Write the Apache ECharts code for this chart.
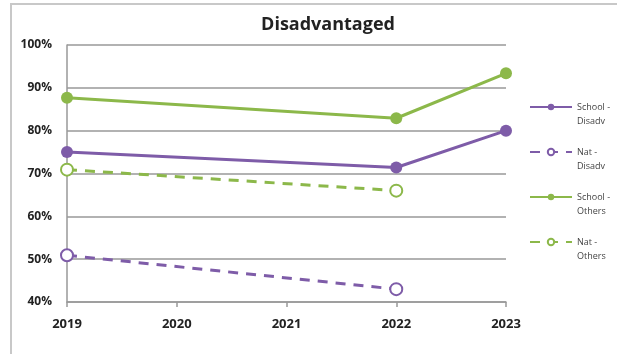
<!DOCTYPE html>
<html><head><meta charset="utf-8">
<script src="https://cdn.jsdelivr.net/npm/echarts@6/dist/echarts.min.js"></script>
<style>html,body{margin:0;padding:0;background:#fff}#c{width:617px;height:354px}</style>
</head><body><div id="c"></div>
<script>
const categories = ['2019','2020','2021','2022','2023'];
const schoolDisadv = [75, null, null, 71.4, 80];
const natDisadv = [50.9, null, null, 43, null];
const schoolOthers = [87.7, null, null, 82.9, 93.4];
const natOthers = [70.9, null, null, 66, null];
const seriesNames = ['School - Disadv','Nat - Disadv','School - Others','Nat - Others'];
const legendLabels = {'School - Disadv':'School -\nDisadv','Nat - Disadv':'Nat -\nDisadv','School - Others':'School -\nOthers','Nat - Others':'Nat -\nOthers'};

const purple = '#7E5CA8', green = '#8CB84A';
const font = '"Open Sans", "Liberation Sans", sans-serif';
function solid(name, data, color){
  return {name, type:'line', data, connectNulls:true, symbol:'circle', symbolSize:12,
    lineStyle:{color, width:3}, itemStyle:{color}};
}
function dashed(name, data, color){
  return {name, type:'line', data, connectNulls:true, symbol:'emptyCircle', symbolSize:12,
    lineStyle:{color, width:3, type:[10,8]}, itemStyle:{color, borderWidth:1.5, borderColor:color}};
}
const chart = echarts.init(document.getElementById('c'));
chart.setOption({
  animation:false,
  backgroundColor:'#fff',
  graphic:[{type:'rect', shape:{x:11,y:4,width:700,height:400}, style:{fill:'none', stroke:'#c8c8c8', lineWidth:2}}],
  title:{text:'Disadvantaged', left:323, top:11, textAlign:'center',
    textStyle:{fontFamily:font, fontWeight:'bold', fontSize:18, color:'#222'}},
  grid:{left:67, right:111, top:45, bottom:52},
  legend:{orient:'vertical', left:524, top:81, itemWidth:42, itemHeight:8, itemGap:3,
    data:seriesNames, formatter:n=>'\u00a0\n' + legendLabels[n],
    textStyle:{fontFamily:font, fontSize:9, color:'#444', lineHeight:14}},
  xAxis:{type:'category', data:categories, boundaryGap:false,
    axisLine:{lineStyle:{color:'#999', width:1.5}},
    axisTick:{show:true, alignWithLabel:true, length:5, lineStyle:{color:'#999', width:1.5}},
    axisLabel:{fontFamily:font, fontWeight:'bold', fontSize:13, color:'#222', margin:16}},
  yAxis:{type:'value', min:40, max:100, interval:10,
    axisLine:{show:true, lineStyle:{color:'#999', width:1.5}},
    axisTick:{show:false},
    splitLine:{lineStyle:{color:'#999', width:1.5}},
    axisLabel:{formatter:'{value}%', fontFamily:font, fontWeight:'bold', fontSize:12, color:'#222', margin:15}},
  series:[
    solid(seriesNames[0], schoolDisadv, purple),
    dashed(seriesNames[1], natDisadv, purple),
    solid(seriesNames[2], schoolOthers, green),
    dashed(seriesNames[3], natOthers, green)
  ]
});
</script></body></html>
